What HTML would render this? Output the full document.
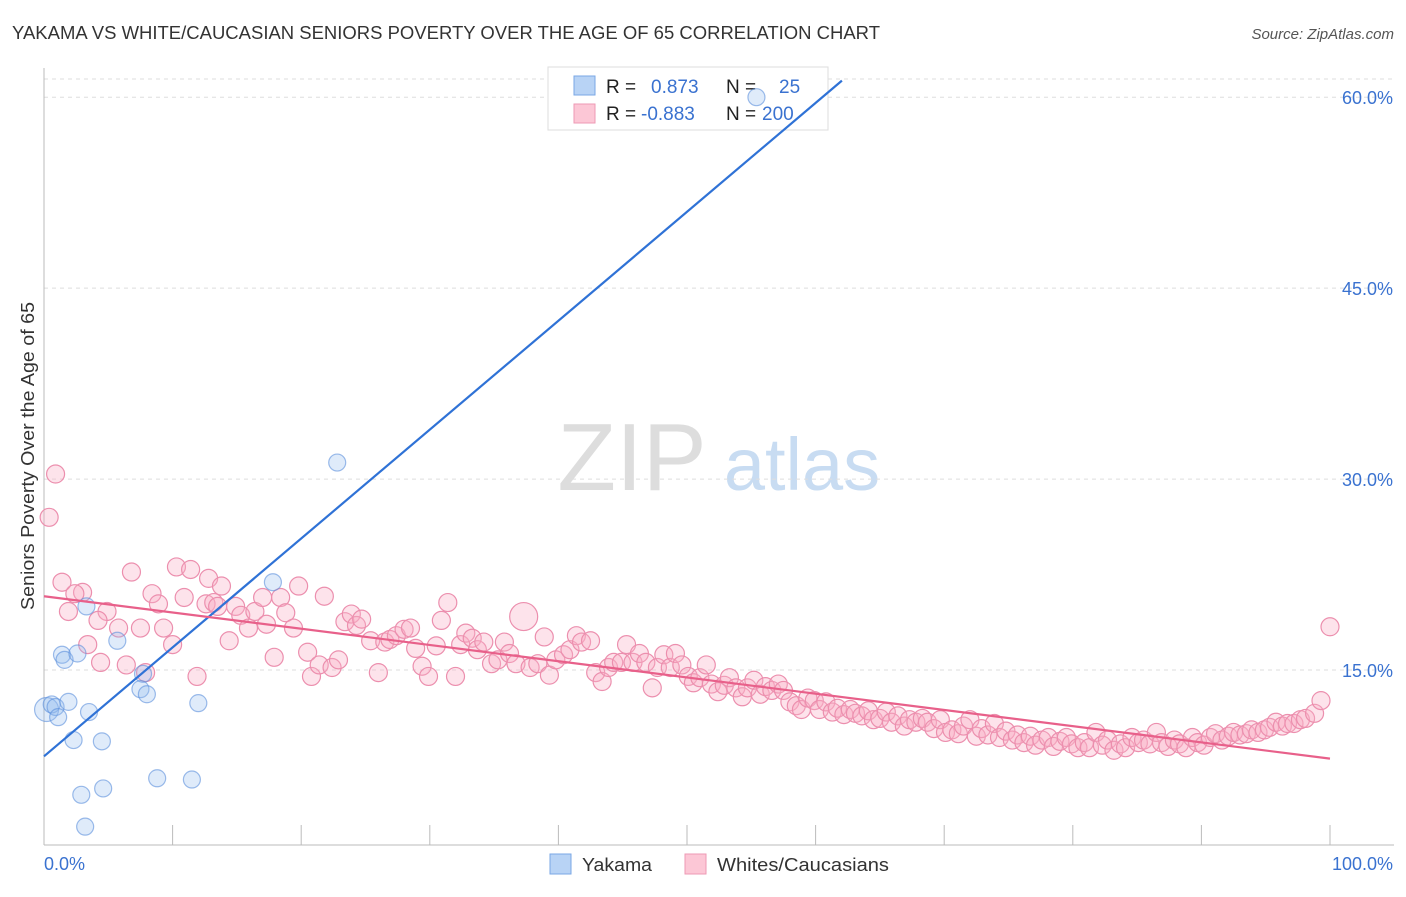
<!DOCTYPE html>
<html><head><meta charset="utf-8"><style>
body{margin:0;background:#fff;font-family:"Liberation Sans",sans-serif}
svg text{font-family:"Liberation Sans",sans-serif}
</style></head><body>
<svg id="c" width="1406" height="892" xmlns="http://www.w3.org/2000/svg">
<text x="12" y="39" font-size="18" fill="#333" textLength="868" lengthAdjust="spacingAndGlyphs">YAKAMA VS WHITE/CAUCASIAN SENIORS POVERTY OVER THE AGE OF 65 CORRELATION CHART</text>
<text x="1394" y="39" font-size="15" fill="#555" font-style="italic" text-anchor="end">Source: ZipAtlas.com</text>
<text transform="translate(34,456) rotate(-90)" font-size="18" fill="#333" text-anchor="middle" textLength="308" lengthAdjust="spacingAndGlyphs">Seniors Poverty Over the Age of 65</text>
<g><text x="632" y="490" font-size="96" font-family="Liberation Serif,serif" fill="#ddd" text-anchor="middle">ZIP</text><text x="802" y="490" font-size="74" fill="#c8dcf2" text-anchor="middle">atlas</text></g>
<g id="grid"></g><g id="axes"></g>
<g>
<rect x="548" y="67" width="280" height="63" fill="#fff" stroke="#ddd"/>
<rect x="574" y="76" width="21" height="19" fill="#b8d3f5" stroke="#7aa7e5"/>
<rect x="574" y="104" width="21" height="19" fill="#fcc7d6" stroke="#ee9ab4"/>
<text x="606" y="93" font-size="19" fill="#222">R =</text><text x="651" y="93" font-size="19" fill="#3a72d0">0.873</text>
<text x="726" y="93" font-size="19" fill="#222">N =</text><text x="779" y="93" font-size="19" fill="#3a72d0">25</text>
<text x="606" y="120" font-size="19" fill="#222">R =</text><text x="641" y="120" font-size="19" fill="#3a72d0">-0.883</text>
<text x="726" y="120" font-size="19" fill="#222">N =</text><text x="762" y="120" font-size="19" fill="#3a72d0">200</text>
</g>
<g id="pts"></g><g id="lines"></g>
<g>
<rect x="550" y="854" width="21" height="20" fill="#b8d3f5" stroke="#7aa7e5"/><text x="582" y="871" font-size="18" fill="#333" textLength="70" lengthAdjust="spacingAndGlyphs">Yakama</text>
<rect x="685" y="854" width="21" height="20" fill="#fcc7d6" stroke="#ee9ab4"/><text x="717" y="871" font-size="18" fill="#333" textLength="172" lengthAdjust="spacingAndGlyphs">Whites/Caucasians</text>
</g>
</svg>
<script>
const yTicks=[15,30,45,60];
const yTickLabels=["15.0%","30.0%","45.0%","60.0%"];
const blueX=[0.2,0.6,0.9,1.1,1.9,3.5,2.3,4.5,1.4,1.6,2.6,3.3,5.7,7.7,7.5,8.0,12.0,17.8,22.8,55.4,8.8,11.5,4.6,2.9,3.2];
const blueY=[11.9,12.3,12.1,11.3,12.5,11.7,9.5,9.4,16.2,15.8,16.3,20.0,17.3,14.7,13.5,13.1,12.4,21.9,31.3,60.0,6.5,6.4,5.7,5.2,2.7];
const pinkX=[0.9,0.4,1.4,3.0,2.4,1.9,4.9,4.2,3.4,5.8,4.4,6.4,7.5,7.9,8.4,8.9,6.8,9.3,10.0,10.3,11.4,10.9,11.9,12.8,12.6,13.2,13.8,13.5,14.9,14.4,15.3,15.9,16.4,17.0,17.3,17.9,18.4,18.8,19.4,19.8,20.5,20.8,21.4,21.8,22.4,22.9,23.4,23.9,24.3,24.7,25.4,26.0,26.5,26.9,27.4,28.0,28.5,28.9,29.4,29.9,30.5,30.9,31.4,32.0,32.4,32.8,33.3,33.7,34.2,34.8,35.3,35.8,36.2,36.7,37.3,37.8,38.4,38.9,39.3,39.8,40.4,40.9,41.4,41.8,42.5,42.9,43.4,43.9,44.3,44.9,45.3,45.8,46.3,46.8,47.3,47.7,48.2,48.7,49.1,49.6,50.1,50.5,51.0,51.5,51.9,52.4,52.9,53.3,53.8,54.3,54.7,55.2,55.7,56.1,56.6,57.1,57.5,58.0,58.5,58.9,59.4,59.9,60.3,60.8,61.3,61.7,62.2,62.7,63.1,63.6,64.1,64.5,65.0,65.5,65.9,66.4,66.9,67.3,67.8,68.3,68.7,69.2,69.7,70.1,70.6,71.1,71.5,72.0,72.5,72.9,73.4,73.9,74.3,74.8,75.3,75.7,76.2,76.7,77.1,77.6,78.1,78.5,79.0,79.5,79.9,80.4,80.9,81.3,81.8,82.3,82.7,83.2,83.7,84.1,84.6,85.1,85.5,86.0,86.5,86.9,87.4,87.9,88.3,88.8,89.3,89.7,90.2,90.7,91.1,91.6,92.1,92.5,93.0,93.5,93.9,94.4,94.9,95.3,95.8,96.3,96.7,97.2,97.7,98.1,98.8,99.3,100];
const pinkY=[30.4,27.0,21.9,21.1,21.0,19.6,19.6,18.9,17.0,18.3,15.6,15.4,18.3,14.8,21.0,20.2,22.7,18.3,17.0,23.1,22.9,20.7,14.5,22.2,20.2,20.3,21.6,20.0,20.0,17.3,19.3,18.3,19.6,20.7,18.6,16.0,20.7,19.5,18.3,21.6,16.4,14.5,15.4,20.8,15.2,15.8,18.8,19.4,18.5,19.0,17.3,14.8,17.2,17.4,17.7,18.2,18.3,16.7,15.3,14.5,16.9,18.9,20.3,14.5,17.0,17.9,17.5,16.6,17.2,15.5,15.8,17.2,16.3,15.5,19.2,15.2,15.5,17.6,14.6,15.8,16.2,16.6,17.7,17.2,17.3,14.8,14.1,15.2,15.6,15.6,17.0,15.6,16.3,15.6,13.6,15.2,16.2,15.2,16.3,15.4,14.5,14.0,14.4,15.4,13.9,13.3,13.8,14.4,13.6,12.9,13.6,14.2,13.1,13.7,13.4,13.9,13.4,12.5,12.2,11.9,12.8,12.6,11.9,12.5,11.7,12.0,11.5,11.9,11.6,11.4,11.8,11.1,11.2,11.7,10.9,11.4,10.6,11.1,10.9,11.2,10.9,10.4,11.1,10.1,10.3,10.0,10.6,11.1,9.8,10.4,9.9,10.8,9.7,10.2,9.5,9.9,9.3,9.8,9.1,9.5,9.7,9.0,9.4,9.7,9.2,8.9,9.3,8.9,10.1,9.1,9.5,8.7,9.2,8.9,9.7,9.3,9.5,9.2,10.1,9.3,9.0,9.5,9.2,8.9,9.7,9.3,9.1,9.7,10.0,9.5,9.8,10.1,9.9,10.0,10.3,10.1,10.3,10.5,10.9,10.6,10.8,10.8,11.1,11.2,11.6,12.6,18.4];
const big={blue:[0],pink:[74]};
const X=v=>44+v*12.86, Y=v=>861-v*12.73;
const NS="http://www.w3.org/2000/svg";
function mk(parent,tag,attrs){const e=document.createElementNS(NS,tag);for(const k in attrs)e.setAttribute(k,attrs[k]);document.getElementById(parent).appendChild(e);return e;}
const gl=mk('grid','line',{x1:44,x2:1394,y1:79,y2:79,stroke:'#ddd','stroke-dasharray':'4,4'});


yTicks.forEach((t,i)=>{
 const l=mk('grid','line',{x1:44,x2:1394,y1:Y(t),y2:Y(t),stroke:'#ddd','stroke-dasharray':'4,4'});
 
 
 const tx=mk('grid','text',{x:1393,y:Y(t)+7,'font-size':18,fill:'#3a72d0','text-anchor':'end'});
 tx.textContent=yTickLabels[i];
 
 
});
const ya=mk('axes','line',{x1:44,x2:44,y1:68,y2:845,stroke:'#bbb'});


const xa=mk('axes','line',{x1:44,x2:1394,y1:845,y2:845,stroke:'#bbb'});


for(let i=1;i<=10;i++){const t=mk('axes','line',{x1:X(i*10),x2:X(i*10),y1:825,y2:845,stroke:'#bbb'});
 
 }
const x0=mk('axes','text',{x:44,y:870,'font-size':18,fill:'#3a72d0'});x0.textContent='0.0%';


const x1=mk('axes','text',{x:1393,y:870,'font-size':18,fill:'#3a72d0','text-anchor':'end'});x1.textContent='100.0%';


pinkX.forEach((v,i)=>{const c=mk('pts','circle',{cx:X(v),cy:Y(pinkY[i]),r:big.pink.includes(i)?14:9,fill:'rgba(248,175,198,0.35)',stroke:'#ec8fae','stroke-width':1.2});
 
 });
blueX.forEach((v,i)=>{const c=mk('pts','circle',{cx:X(v),cy:Y(blueY[i]),r:big.blue.includes(i)?12:8.5,fill:'rgba(150,190,240,0.3)',stroke:'rgba(91,143,220,0.6)','stroke-width':1.2});
 
 });
function reg(xs,ys){const n=xs.length;let sx=0,sy=0,sxx=0,sxy=0;for(let i=0;i<n;i++){sx+=xs[i];sy+=ys[i];sxx+=xs[i]*xs[i];sxy+=xs[i]*ys[i];}const b=(n*sxy-sx*sy)/(n*sxx-sx*sx);return[(sy-b*sx)/n,b];}
const [ba,bb]=reg(blueX,blueY);
let xe=Math.min(100,(61.3-ba)/bb);
const bl=mk('lines','line',{x1:X(0),y1:Y(ba),x2:X(xe),y2:Y(ba+bb*xe),stroke:'#2f72d6','stroke-width':2.2});


const [pa,pb]=reg(pinkX,pinkY);
const pl=mk('lines','line',{x1:X(0),y1:Y(pa),x2:X(100),y2:Y(pa+pb*100),stroke:'#e8608a','stroke-width':2.2});


</script>
</body></html>
